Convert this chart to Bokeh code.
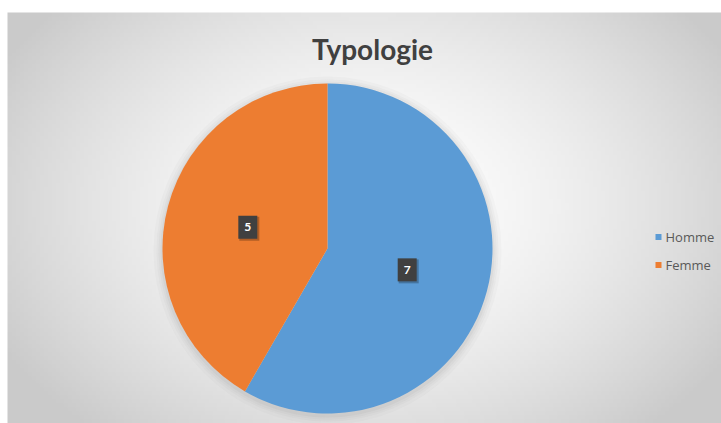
import numpy as np
from bokeh.plotting import figure
from bokeh.models import Range1d
from bokeh.core.properties import value
from bokeh.embed import file_html
from bokeh.resources import INLINE

# ---- data ----
title = "Typologie"
categories = ["Homme", "Femme"]
counts = [7, 5]
colors = ["#5B9BD5", "#ED7D31"]

W, H = 721, 423
p = figure(width=W, height=H, x_range=Range1d(0, W), y_range=Range1d(0, H),
           min_border=0, toolbar_location=None, output_backend="svg")
p.axis.visible = False
p.grid.visible = False
p.outline_line_color = None
p.background_fill_color = "white"
p.border_fill_color = "white"

# ---- background radial gradient (chart area) ----
top_band, left_band = 12, 7
gh, gw = 104, 178
yy, xx = np.mgrid[0:gh, 0:gw]
aw, ah = W - left_band, H - top_band
px = left_band + (xx + 0.5) / gw * aw          # page x
py = H - (yy + 0.5) / gh * ah                  # page y (row 0 = bottom)
cx, cy = 368, 205
d = np.sqrt(((px - cx) / 420) ** 2 + ((py - cy) / 300) ** 2)
d = np.clip(d, 0, 1)
g = (255 - (255 - 202) * d ** 1.6).astype(np.uint32)
img = np.zeros((gh, gw), dtype=np.uint32)
view = img.view(dtype=np.uint8).reshape((gh, gw, 4))
view[:, :, 0] = g
view[:, :, 1] = g
view[:, :, 2] = g
view[:, :, 3] = 255
p.image_rgba(image=[img], x=left_band, y=0, dw=aw, dh=ah)

# ---- pie ----
pcx, pcy, R = 327, 175, 165
for k, a in zip([9, 6, 4, 2], [0.04, 0.05, 0.06, 0.08]):
    p.circle(x=pcx, y=pcy - 2, radius=R + k, fill_color="#808080", fill_alpha=a, line_color=None)

total = float(sum(counts))
fr = np.array(counts) / total
ends = np.cumsum(fr)
starts = ends - fr
start_ang = np.pi / 2 - 2 * np.pi * starts
end_ang = np.pi / 2 - 2 * np.pi * ends
p.wedge(x=pcx, y=pcy, radius=R, start_angle=list(start_ang), end_angle=list(end_ang),
        direction="clock", fill_color=colors, line_color=None)

# ---- data labels ----
mid = (start_ang + end_ang) / 2
lx = pcx + 0.5 * R * np.cos(mid)
ly = pcy + 0.5 * R * np.sin(mid)
p.rect(x=list(lx + 1.5), y=list(ly - 1.5), width=20, height=24, width_units="screen",
       height_units="screen", fill_color="#000000", fill_alpha=0.25, line_color=None)
p.rect(x=list(lx), y=list(ly), width=19, height=23, width_units="screen",
       height_units="screen", fill_color="#404040", line_color=None)
p.text(x=list(lx), y=list(ly), text=[str(c) for c in counts], text_color="white",
       text_font=value("Lato"), text_font_style="bold", text_font_size="12px",
       text_align="center", text_baseline="middle")

# ---- title ----
p.text(x=[372], y=[375], text=[title], text_color="#404040", text_font=value("Lato"),
       text_font_style="bold", text_font_size="28px", text_align="center",
       text_baseline="middle")

# ---- legend ----
lgx = 658
lgy = [186.5 - 28 * i for i in range(len(categories))]
p.scatter(x=[lgx] * len(categories), y=lgy, marker="square", size=6,
          fill_color=colors, line_color=None)
p.text(x=[lgx + 7] * len(categories), y=lgy, text=categories, text_color="#595959",
       text_font=value("Open Sans"), text_font_size="13px", text_align="left",
       text_baseline="middle")

open("out.html", "w").write(file_html(p, INLINE))
